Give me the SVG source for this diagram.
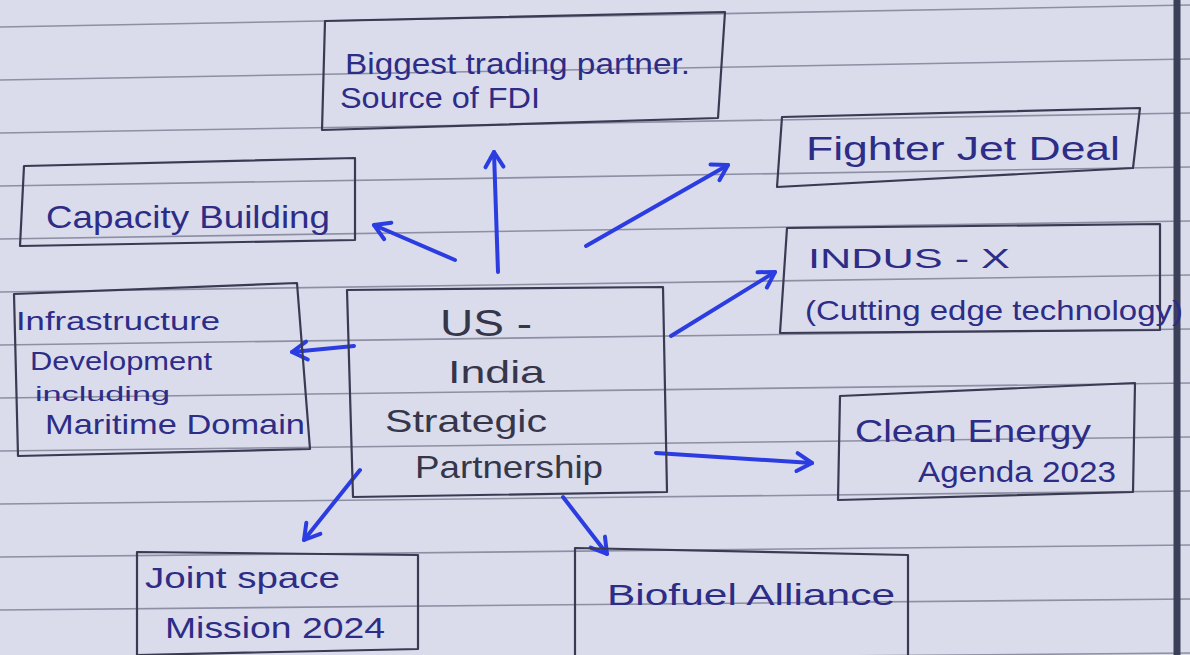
<svg xmlns="http://www.w3.org/2000/svg" width="1190" height="655" viewBox="0 0 1190 655">
<defs>
<style>
.paper{fill:#dadcec}
.rule{stroke:#8d8fa3;stroke-width:1.6;fill:none}
.box{fill:none;stroke:#3a3a52;stroke-width:2.2;stroke-linejoin:round}
.ink{font-family:"Liberation Sans","DejaVu Sans",sans-serif;fill:#2d2c86}
.pen{font-family:"Liberation Sans","DejaVu Sans",sans-serif;fill:#36364a}
.arrow{stroke:#2b3de0;stroke-width:4;fill:none;stroke-linecap:round;marker-end:url(#ah)}
</style>
<marker id="ah" markerWidth="26" markerHeight="26" refX="20" refY="13" orient="auto" markerUnits="userSpaceOnUse">
<path d="M5,4 L20,13 L5,22" fill="none" stroke="#2b3de0" stroke-width="4" stroke-linecap="round" stroke-linejoin="round"/>
</marker>
</defs>
<rect class="paper" x="0" y="0" width="1190" height="655"/>
<g id="ruled-lines">
<line class="rule" x1="0" y1="27" x2="1190" y2="5"/>
<line class="rule" x1="0" y1="80" x2="1190" y2="59"/>
<line class="rule" x1="0" y1="133" x2="1190" y2="113"/>
<line class="rule" x1="0" y1="186" x2="1190" y2="167"/>
<line class="rule" x1="0" y1="239" x2="1190" y2="221"/>
<line class="rule" x1="0" y1="292" x2="1190" y2="275"/>
<line class="rule" x1="0" y1="345" x2="1190" y2="329"/>
<line class="rule" x1="0" y1="398" x2="1190" y2="383"/>
<line class="rule" x1="0" y1="451" x2="1190" y2="437"/>
<line class="rule" x1="0" y1="504" x2="1190" y2="491"/>
<line class="rule" x1="0" y1="557" x2="1190" y2="545"/>
<line class="rule" x1="0" y1="610" x2="1190" y2="599"/>
<line class="rule" x1="0" y1="663" x2="1190" y2="653"/>
<line x1="1177" y1="0" x2="1177" y2="655" stroke="#3b3f58" stroke-width="7"/>
</g>
<g id="connectors">
<line class="arrow" x1="498" y1="272" x2="494" y2="152"/>
<line class="arrow" x1="455" y1="260" x2="374" y2="225"/>
<line class="arrow" x1="586" y1="246" x2="728" y2="165"/>
<line class="arrow" x1="671" y1="336" x2="775" y2="272"/>
<line class="arrow" x1="354" y1="346" x2="292" y2="352"/>
<line class="arrow" x1="656" y1="453" x2="812" y2="463"/>
<line class="arrow" x1="360" y1="470" x2="304" y2="540"/>
<line class="arrow" x1="563" y1="497" x2="607" y2="554"/>
</g>
<g id="node-trade">
<polygon class="box" points="325,21 725,12 718,118 322,130"/>
<text class="ink" x="345" y="74" font-size="30" textLength="345" lengthAdjust="spacingAndGlyphs">Biggest trading partner.</text>
<text class="ink" x="340" y="108" font-size="30" textLength="200" lengthAdjust="spacingAndGlyphs">Source of FDI</text>
</g>
<g id="node-fighter">
<polygon class="box" points="782,117 1140,108 1133,168 777,187"/>
<text class="ink" x="806" y="160" font-size="34" textLength="314" lengthAdjust="spacingAndGlyphs">Fighter Jet Deal</text>
</g>
<g id="node-capacity">
<polygon class="box" points="24,166 355,158 355,240 20,246"/>
<text class="ink" x="46" y="228" font-size="32" textLength="284" lengthAdjust="spacingAndGlyphs">Capacity Building</text>
</g>
<g id="node-indus">
<polygon class="box" points="787,228 1160,224 1160,330 780,333"/>
<text class="ink" x="808" y="268" font-size="28" textLength="202" lengthAdjust="spacingAndGlyphs">INDUS - X</text>
<text class="ink" x="805" y="320" font-size="28" textLength="378" lengthAdjust="spacingAndGlyphs">(Cutting edge technology)</text>
</g>
<g id="node-infra">
<polygon class="box" points="14,294 297,283 310,449 18,456"/>
<text class="ink" x="16" y="330" font-size="26" textLength="204" lengthAdjust="spacingAndGlyphs">Infrastructure</text>
<text class="ink" x="30" y="370" font-size="26" textLength="182" lengthAdjust="spacingAndGlyphs">Development</text>
<text class="ink" x="35" y="401" font-size="20" textLength="135" lengthAdjust="spacingAndGlyphs">including</text>
<text class="ink" x="45" y="434" font-size="28" textLength="260" lengthAdjust="spacingAndGlyphs">Maritime Domain</text>
</g>
<g id="node-center">
<polygon class="box" points="347,290 663,287 667,492 353,497"/>
<text class="pen" x="440" y="336" font-size="36" textLength="92" lengthAdjust="spacingAndGlyphs">US -</text>
<text class="pen" x="448" y="383" font-size="32" textLength="97" lengthAdjust="spacingAndGlyphs">India</text>
<text class="pen" x="385" y="432" font-size="32" textLength="162" lengthAdjust="spacingAndGlyphs">Strategic</text>
<text class="pen" x="415" y="478" font-size="32" textLength="188" lengthAdjust="spacingAndGlyphs">Partnership</text>
</g>
<g id="node-clean">
<polygon class="box" points="840,396 1135,383 1133,492 838,500"/>
<text class="ink" x="855" y="442" font-size="32" textLength="236" lengthAdjust="spacingAndGlyphs">Clean Energy</text>
<text class="ink" x="918" y="482" font-size="30" textLength="198" lengthAdjust="spacingAndGlyphs">Agenda 2023</text>
</g>
<g id="node-space">
<polygon class="box" points="137,552 418,555 418,649 137,655"/>
<text class="ink" x="145" y="588" font-size="30" textLength="195" lengthAdjust="spacingAndGlyphs">Joint space</text>
<text class="ink" x="165" y="638" font-size="30" textLength="220" lengthAdjust="spacingAndGlyphs">Mission 2024</text>
</g>
<g id="node-biofuel">
<polyline class="box" points="575,660 575,548 908,555 908,660"/>
<text class="ink" x="607" y="605" font-size="30" textLength="288" lengthAdjust="spacingAndGlyphs">Biofuel Alliance</text>
</g>
</svg>
